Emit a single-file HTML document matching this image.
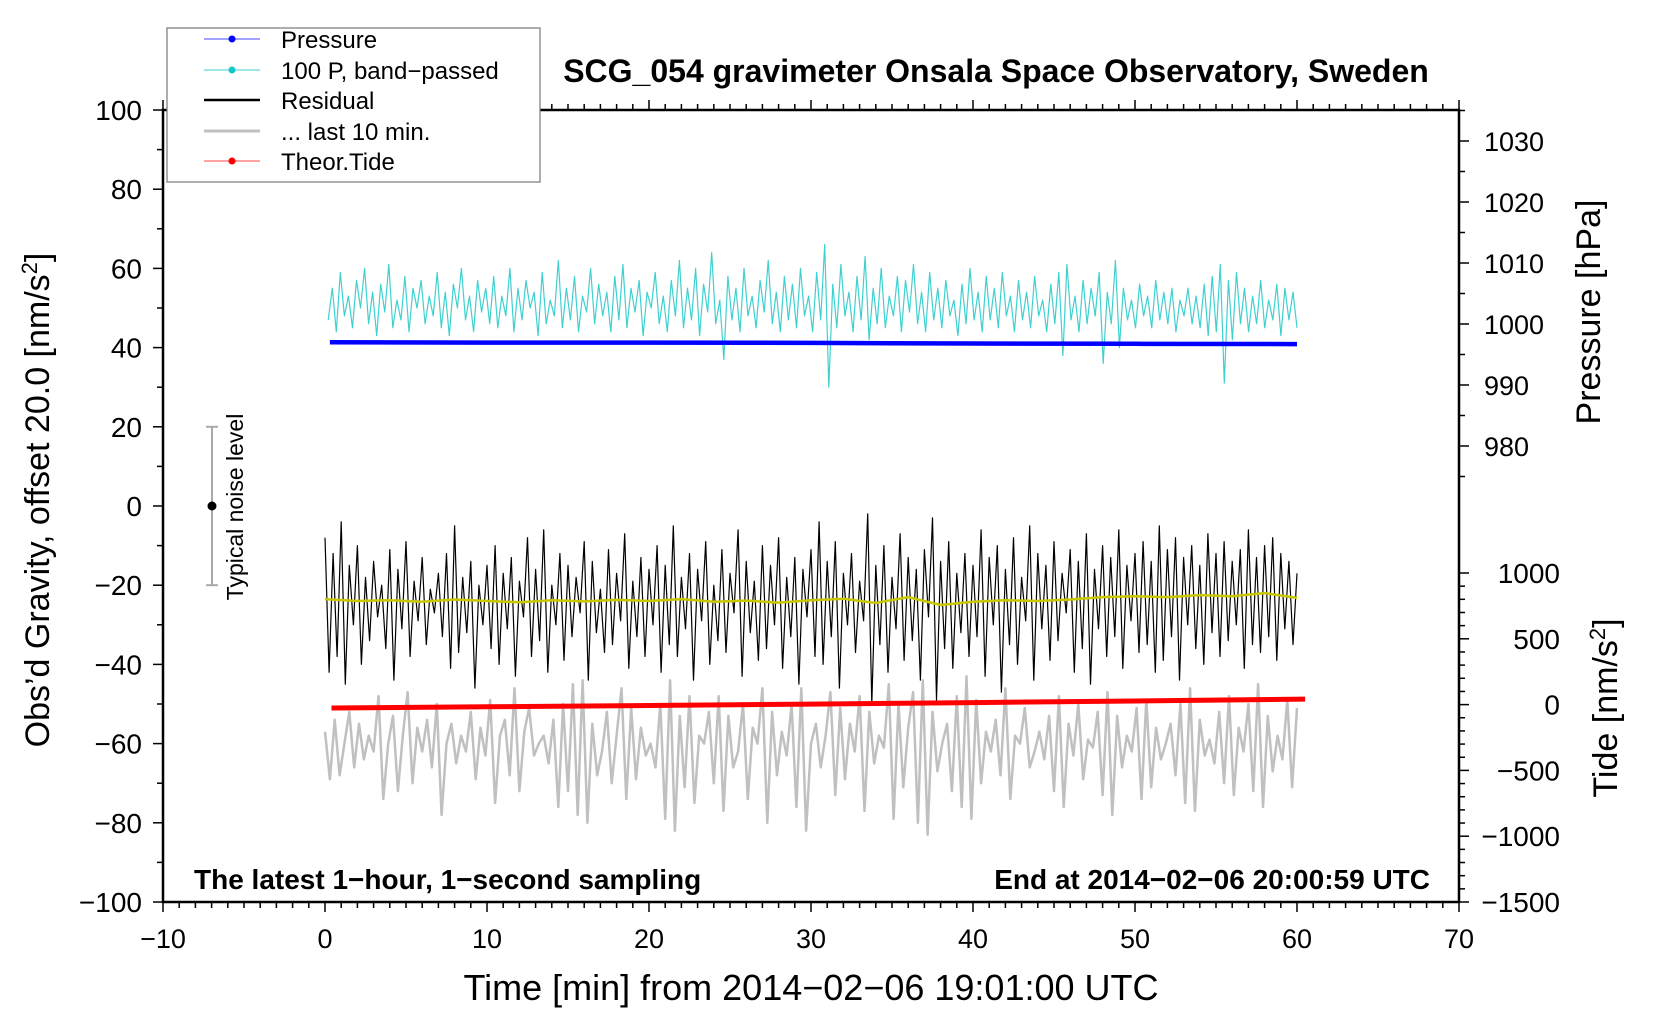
<!DOCTYPE html>
<html><head><meta charset="utf-8"><style>
body{margin:0;background:#fff}
svg{display:block;font-family:"Liberation Sans",sans-serif}
</style></head><body>
<svg id="c" width="1660" height="1020" viewBox="0 0 1660 1020"></svg>
<script>
const pressVals=[997.0,996.95,996.95,996.9,996.8,996.75,996.7];
const pressT=[0.3,10,20,30,40,50,60];
const cyanVals=[47,55,44,59,48,53,45,57,50,60,46,54,43,56,49,61,45,52,47,58,44,55,50,57,46,53,48,59,45,54,43,56,50,60,47,53,44,57,49,55,46,
58,45,53,48,60,44,55,47,57,50,54,43,59,46,52,48,62,45,55,47,58,44,53,49,60,46,56,48,54,44,58,47,61,45,55,49,57,43,54,50,
59,46,53,44,57,48,62,45,55,47,60,43,56,49,64,46,52,37,58,47,55,44,60,48,53,45,57,49,62,46,54,44,58,47,56,45,60,48,53,44,
59,47,66,30,56,45,61,48,54,44,58,47,63,42,55,46,60,45,53,48,58,44,57,49,61,46,54,44,59,47,55,45,57,48,52,43,56,46,60,47,
54,44,58,47,55,45,59,48,53,44,57,47,54,45,58,48,52,44,56,46,59,38,61,47,53,44,57,46,55,48,59,36,54,46,62,40,55,47,52,45,
56,48,53,45,57,47,54,46,55,44,52,48,55,46,53,45,56,43,58,44,61,31,57,42,59,46,55,44,53,46,57,45,52,47,56,43,55,47,54,45];
const residVals=[-8,-42,-12,-38,-4,-45,-15,-30,-10,-40,-18,-34,-14,-28,-20,-36,-11,-44,-16,-31,-9,-38,-19,-29,-13,-35,-21,-27,-17,-33,-12,-41,-5,-37,-18,-32,-14,-46,-20,-30,-15,
-36,-10,-40,-17,-31,-13,-43,-19,-28,-8,-38,-16,-34,-6,-42,-20,-30,-12,-39,-15,-33,-18,-27,-9,-44,-14,-32,-21,-37,-11,-35,-17,-29,-7,-41,-19,-33,-13,-38,-16,
-30,-10,-42,-15,-35,-5,-38,-18,-31,-12,-44,-16,-29,-9,-40,-20,-34,-11,-37,-17,-27,-6,-43,-14,-32,-19,-39,-10,-36,-15,-30,-8,-41,-18,-33,-13,-45,-16,-28,-11,
-38,-4,-40,-14,-33,-9,-46,-17,-30,-12,-37,-19,-29,-2,-50,-15,-35,-10,-42,-18,-31,-7,-39,-13,-34,-16,-44,-11,-28,-3,-49,-14,-36,-9,-41,-17,-32,-12,-38,-15,
-33,-6,-43,-13,-30,-10,-47,-16,-35,-8,-40,-18,-29,-5,-44,-12,-31,-15,-39,-9,-34,-17,-27,-11,-42,-14,-36,-7,-45,-16,-31,-10,-38,-13,-33,-6,-41,-15,-29,-12,
-37,-9,-35,-14,-42,-5,-39,-11,-33,-8,-44,-13,-30,-10,-36,-15,-40,-7,-32,-12,-38,-9,-34,-14,-30,-11,-41,-6,-35,-13,-37,-10,-33,-8,-39,-12,-31,-14,-35,-17];
const smoothVals=[-23.5,-24,-23.8,-24.2,-23.6,-24,-24.3,-23.8,-24.1,-23.7,-24,-23.5,-24.2,-23.9,-24.4,-23.8,-23.4,-24.5,-23,-25,-24.2,-23.8,-24,-23.6,-23,-22.8,-23,-22.5,-22.8,-22,-23.2];
const greyVals=[-57,-69,-54,-68,-60,-52,-66,-55,-64,-58,-62,-48,-74,-60,-53,-72,-58,-47,-70,-56,-62,-54,-66,-50,-78,-60,-55,-65,-58,-62,-52,-69,-56,-63,-49,-75,-58,-54,-68,-46,-72,
-57,-51,-63,-60,-58,-65,-54,-76,-50,-72,-45,-78,-44,-80,-55,-68,-62,-52,-70,-58,-46,-74,-51,-69,-56,-63,-60,-66,-50,-79,-44,-82,-53,-71,-48,-75,-58,-60,-52,-70,
-48,-77,-53,-66,-62,-50,-74,-56,-60,-46,-80,-52,-68,-57,-63,-50,-76,-46,-82,-60,-55,-66,-58,-47,-73,-51,-69,-55,-62,-48,-77,-52,-65,-58,-61,-45,-79,-50,-71,-56,
-47,-80,-44,-83,-52,-67,-60,-55,-72,-48,-76,-43,-79,-49,-70,-57,-62,-54,-68,-46,-74,-58,-60,-51,-66,-62,-57,-64,-53,-72,-48,-76,-55,-63,-50,-69,-59,-61,-52,-73,
-47,-78,-53,-66,-58,-62,-51,-74,-49,-71,-56,-64,-60,-55,-68,-50,-75,-46,-77,-54,-63,-59,-65,-52,-70,-48,-73,-56,-62,-50,-72,-45,-76,-53,-67,-58,-64,-49,-71,-51];
const tideT=[0.4,10,20,30,40,50,60.5];
const tideVals=[-26,-17,-7,4,15,27,42];
const xTicks=[-10,0,10,20,30,40,50,60,70];
const yTicks=[-100,-80,-60,-40,-20,0,20,40,60,80,100];
const pTicks=[980,990,1000,1010,1020,1030];
const tTicks=[-1500,-1000,-500,0,500,1000];

const L=163,R=1459,T=110,B=902;
const px=t=>L+(t+10)*(R-L)/80;
const py=v=>B-(v+100)*(B-T)/200;
const pyP=p=>141+(1030-p)*6.1;
const pyT=v=>B-(v+1500)*0.1316;
const svg=document.getElementById('c');
const NS='http://www.w3.org/2000/svg';
function mk(tag,at,txt){const e=document.createElementNS(NS,tag);for(const k in at)e.setAttribute(k,at[k]);if(txt!==undefined)e.textContent=txt;svg.appendChild(e);return e;}
function poly(xs,ys,col,w,name){
  const e=mk('polyline',{points:xs.map((x,i)=>x.toFixed(1)+','+ys[i].toFixed(1)).join(' '),fill:'none',stroke:col,'stroke-width':w,'stroke-linejoin':'round'});
  
  
}
const idxT=(arr,a,b)=>arr.map((_,i)=>a+i*(b-a)/(arr.length-1));

poly(idxT(greyVals,0,60).map(px),greyVals.map(py),'#c0c0c0',2.5,'last-10-min-line');
poly(idxT(cyanVals,0.2,60).map(px),cyanVals.map(py),'#40d0d0',1.2,'band-passed-pressure-line');
poly(pressT.map(px),pressVals.map(pyP),'#0000ff',4.5,'pressure-line');
poly(idxT(residVals,0,60).map(px),residVals.map(py),'#000',1.2,'residual-line');
poly(idxT(smoothVals,0,60).map(px),smoothVals.map(py),'#c8c800',2.5,'residual-smoothed-line');
poly(tideT.map(px),tideVals.map(pyT),'#ff0000',5,'theoretical-tide-line');

const fr=mk('rect',{x:L,y:T,width:R-L,height:B-T,fill:'none',stroke:'#000','stroke-width':2.5});


for(let t=-10;t<=70;t++){const x=px(t);const len=t%10===0?10:6;
  mk('line',{x1:x,y1:B,x2:x,y2:B+len,stroke:'#000','stroke-width':1.5});
  mk('line',{x1:x,y1:T,x2:x,y2:T-len,stroke:'#000','stroke-width':1.5});}
xTicks.forEach(t=>{const e=mk('text',{x:px(t),y:948,'font-size':27,'text-anchor':'middle'},String(t).replace('-','\u2212'));
  });
for(let v=-100;v<=100;v+=10){const y=py(v);const len=v%20===0?10:6;mk('line',{x1:L,y1:y,x2:L-len,y2:y,stroke:'#000','stroke-width':1.5});}
yTicks.forEach(v=>{const e=mk('text',{x:142,y:py(v)+10,'font-size':28,'text-anchor':'end'},String(v).replace('-','\u2212'));
  });
for(let p=975;p<=1035;p+=5){const y=pyP(p);if(y<T)continue;mk('line',{x1:R,y1:y,x2:R+(p%10===0?10:6),y2:y,stroke:'#000','stroke-width':1.5});}
pTicks.forEach(p=>{const e=mk('text',{x:1484,y:pyP(p)+10,'font-size':27},String(p));
  });
for(let v=-1500;v<=1000;v+=100){const y=pyT(v);mk('line',{x1:R,y1:y,x2:R+(v%500===0?10:6),y2:y,stroke:'#000','stroke-width':1.5});}
tTicks.forEach(v=>{const e=mk('text',{x:1560,y:pyT(v)+10,'font-size':28,'text-anchor':'end'},String(v).replace('-','\u2212'));
  });

const nx=212;
mk('line',{x1:nx,y1:py(20),x2:nx,y2:py(-20),stroke:'#aaa','stroke-width':2});
mk('line',{x1:nx-6,y1:py(20),x2:nx+6,y2:py(20),stroke:'#aaa','stroke-width':2});
mk('line',{x1:nx-6,y1:py(-20),x2:nx+6,y2:py(-20),stroke:'#aaa','stroke-width':2});
mk('circle',{cx:nx,cy:py(0),r:4.5,fill:'#000'});
</script>
<svg width="1660" height="1020" style="position:absolute;left:0;top:0;font-family:'Liberation Sans',sans-serif">
<text x="243" y="507" font-size="23" text-anchor="middle" transform="rotate(-90 243 507)">Typical noise level</text>
<text x="996" y="82" font-size="32" font-weight="bold" text-anchor="middle">SCG_054 gravimeter Onsala Space Observatory, Sweden</text>
<text x="194" y="889" font-size="28" font-weight="bold">The latest 1−hour, 1−second sampling</text>
<text x="1430" y="889" font-size="28" font-weight="bold" text-anchor="end">End at 2014−02−06 20:00:59 UTC</text>
<text x="811" y="1000" font-size="36" text-anchor="middle">Time [min] from 2014−02−06 19:01:00 UTC</text>
<text x="49" y="500" font-size="34" text-anchor="middle" transform="rotate(-90 49 500)">Obs’d Gravity, offset 20.0 [nm/s<tspan font-size="22" dy="-12">2</tspan><tspan dy="12">]</tspan></text>
<text x="1600" y="312" font-size="34" text-anchor="middle" transform="rotate(-90 1600 312)">Pressure [hPa]</text>
<text x="1617" y="708" font-size="34" text-anchor="middle" transform="rotate(-90 1617 708)">Tide [nm/s<tspan font-size="22" dy="-12">2</tspan><tspan dy="12">]</tspan></text>
<g>
<rect x="167" y="28" width="373" height="154" fill="#fff" stroke="#777" stroke-width="1.2"/>
<line x1="204" y1="39" x2="260" y2="39" stroke="#4444ff" stroke-width="1"/><circle cx="232" cy="39" r="3.5" fill="#0000ff"/>
<text x="281" y="48" font-size="24">Pressure</text>
<line x1="204" y1="70" x2="260" y2="70" stroke="#40d0d0" stroke-width="1"/><circle cx="232" cy="70" r="3.5" fill="#10c8c8"/>
<text x="281" y="79" font-size="24">100 P, band−passed</text>
<line x1="204" y1="100" x2="260" y2="100" stroke="#000" stroke-width="2.5"/>
<text x="281" y="109" font-size="24">Residual</text>
<line x1="204" y1="131" x2="260" y2="131" stroke="#c0c0c0" stroke-width="3"/>
<text x="281" y="140" font-size="24">... last 10 min.</text>
<line x1="204" y1="161" x2="260" y2="161" stroke="#ff4444" stroke-width="1"/><circle cx="232" cy="161" r="3.5" fill="#ff0000"/>
<text x="281" y="170" font-size="24">Theor.Tide</text>
</g>
</svg>
</body></html>
